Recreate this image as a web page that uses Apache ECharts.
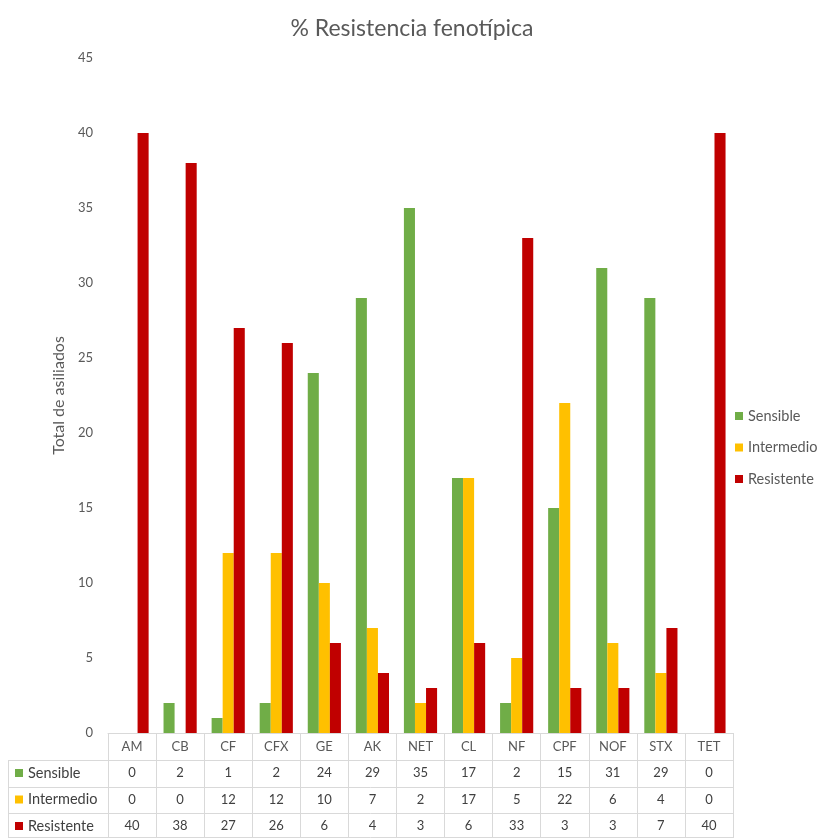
<!DOCTYPE html>
<html>
<head>
<meta charset="utf-8">
<script src="https://cdn.jsdelivr.net/npm/echarts@6/dist/echarts.min.js"></script>
<style>
  html, body { margin: 0; padding: 0; background: #fff; }
  #chart { width: 824px; height: 838px; }
</style>
</head>
<body>
<div id="chart"></div>
<script>
const categories = ['AM', 'CB', 'CF', 'CFX', 'GE', 'AK', 'NET', 'CL', 'NF', 'CPF', 'NOF', 'STX', 'TET'];
const sensible   = [0, 2, 1, 2, 24, 29, 35, 17, 2, 15, 31, 29, 0];
const intermedio = [0, 0, 12, 12, 10, 7, 2, 17, 5, 22, 6, 4, 0];
const resistente = [40, 38, 27, 26, 6, 4, 3, 6, 33, 3, 3, 7, 40];
const seriesNames = ['Sensible', 'Intermedio', 'Resistente'];
const colors = ['#70ad47', '#ffc000', '#c00000'];

const font = 'Lato, "Open Sans", sans-serif';
const gridLeft = 108, gridRight = 91, gridTop = 58, gridBottom = 105;
const lineColor = '#d9d9d9';

const myChart = echarts.init(document.getElementById('chart'));

// rows of the data table under the x axis
const tableRows = [sensible, intermedio, resistente];
const rowAxes = tableRows.map((row, k) => ({
    type: 'category',
    data: categories,
    gridIndex: 0,
    position: 'bottom',
    offset: [26, 53, 79][k],
    axisLine: { show: false },
    axisTick: { show: false },
    axisLabel: {
        margin: 7,
        color: '#404040',
        fontSize: 13,
        fontFamily: font,
        formatter: (v, i) => String(row[i])
    }
}));

// horizontal table lines (layout only)
const tableLines = [760, 787, 813, 837].map(y => ({
    type: 'line',
    shape: { x1: 8, y1: y + 0.5, x2: 824 - gridRight, y2: y + 0.5 },
    style: { stroke: lineColor, lineWidth: 1 }
}));
tableLines.push({
    type: 'line',
    shape: { x1: 8.5, y1: 760, x2: 8.5, y2: 838 },
    style: { stroke: lineColor, lineWidth: 1 }
});

myChart.setOption({
    backgroundColor: '#fff',
    animation: false,
    color: colors,
    title: {
        text: '% Resistencia fenotípica',
        left: 'center',
        top: 12,
        textStyle: { fontSize: 23, fontWeight: 'normal', color: '#595959', fontFamily: font }
    },
    legend: [{
        data: seriesNames,
        orient: 'vertical',
        left: 735,
        top: 408,
        padding: 0,
        itemWidth: 8,
        itemHeight: 8,
        itemGap: 15.5,
        icon: 'rect',
        textStyle: { fontSize: 14.5, color: '#595959', fontFamily: font, lineHeight: 16 }
    }, {
        data: seriesNames,
        orient: 'vertical',
        left: 15,
        top: 765,
        padding: 0,
        itemWidth: 8,
        itemHeight: 8,
        itemGap: 10.5,
        icon: 'rect',
        textStyle: { fontSize: 14.5, color: '#404040', fontFamily: font, lineHeight: 16 }
    }],
    grid: { left: gridLeft, right: gridRight, top: gridTop, bottom: gridBottom },
    xAxis: [{
        type: 'category',
        data: categories,
        axisLine: { lineStyle: { color: lineColor } },
        axisTick: { show: true, length: 105, lineStyle: { color: lineColor } },
        axisLabel: { margin: 7, color: '#595959', fontSize: 13, fontFamily: font }
    }].concat(rowAxes),
    yAxis: {
        type: 'value',
        min: 0,
        max: 45,
        interval: 5,
        name: 'Total de asiliados',
        nameLocation: 'middle',
        nameGap: 41,
        nameTextStyle: { fontSize: 16, color: '#595959', fontFamily: font },
        axisLine: { show: false },
        axisTick: { show: false },
        splitLine: { show: false },
        axisLabel: { margin: 15, color: '#595959', fontSize: 13, fontFamily: font }
    },
    series: [sensible, intermedio, resistente].map((d, i) => ({
        name: seriesNames[i],
        type: 'bar',
        data: d,
        barGap: '0%',
        barCategoryGap: '31%'
    })),
    graphic: tableLines
});
</script>
</body>
</html>
